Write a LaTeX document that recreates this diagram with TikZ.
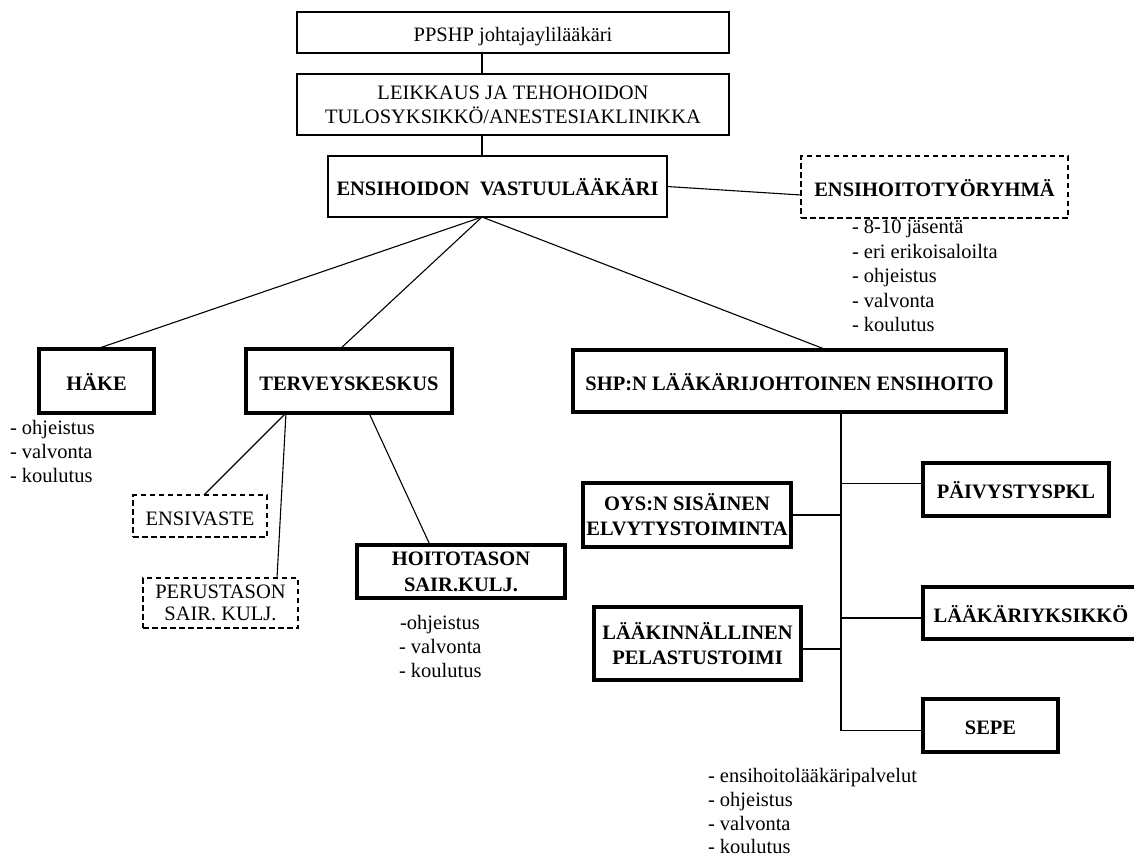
\documentclass[tikz,border=0pt]{standalone}
\usepackage{fontspec}
\setmainfont{Liberation Serif}
\begin{document}
\begin{tikzpicture}[x=1pt,y=-1pt,
  every node/.style={font=\fontsize{20.5}{25}\selectfont, inner sep=0pt, outer sep=0pt, align=center},
  thinbox/.style={draw, rectangle, line width=1.2pt},
  boldtxt/.style={font=\fontsize{20.5}{25}\selectfont\bfseries},
  thickbox/.style={draw, rectangle, line width=3.2pt, boldtxt},
  dashbox/.style={draw, rectangle, line width=1.8pt, dash pattern=on 5.5pt off 3.5pt},
  oneline/.style={text height=18pt, text depth=0pt},
  conn/.style={line width=1.1pt},
  note/.style={anchor=base west, align=left}]
\useasboundingbox (0,0) rectangle (1134,855);

% top chain
\node[thinbox, oneline, minimum width=432pt, minimum height=41pt] (pp) at (513,32.5) {PPSHP johtajaylilääkäri};
\node[thinbox, minimum width=432pt, minimum height=61pt] (lk) at (513,104.5) {LEIKKAUS JA TEHOHOIDON\\[-1pt]TULOSYKSIKKÖ/ANESTESIAKLINIKKA};
\node[thinbox, boldtxt, oneline, minimum width=339pt, minimum height=61pt] (vl) at (497.5,186.5) {ENSIHOIDON\ \ VASTUULÄÄKÄRI};
\node[dashbox, boldtxt, oneline, minimum width=267pt, minimum height=62pt] (eh) at (934.5,187) {ENSIHOITOTYÖRYHMÄ};

\node[note] (eh1) at (852,233.5) {- 8-10 jäsentä};
\node[note] (eh2) at (852,258) {- eri erikoisaloilta};
\node[note] (eh3) at (852,282.5) {- ohjeistus};
\node[note] (eh4) at (852,307) {- valvonta};
\node[note] (eh5) at (852,331) {- koulutus};

% second level
\node[thickbox, oneline, minimum width=115pt, minimum height=64pt] (hk) at (96.5,381) {HÄKE};
\node[thickbox, oneline, minimum width=206pt, minimum height=64pt] (tk) at (349,381) {TERVEYSKESKUS};
\node[thickbox, oneline, minimum width=433pt, minimum height=62pt] (shp) at (789.5,381) {SHP:N LÄÄKÄRIJOHTOINEN ENSIHOITO};

\node[note] (hk1) at (10,434) {- ohjeistus};
\node[note] (hk2) at (10,458) {- valvonta};
\node[note] (hk3) at (10,482) {- koulutus};

% terveyskeskus children
\node[dashbox, oneline, minimum width=134pt, minimum height=42pt] (ens) at (200,516) {ENSIVASTE};
\node[dashbox, minimum width=155pt, minimum height=50pt] (per) at (220.5,603) {PERUSTASON\\[-3pt]SAIR. KULJ.};
\node[thickbox, minimum width=208pt, minimum height=53pt] (hoi) at (461,571.5) {\raisebox{-2pt}{HOITOTASON}\\[1pt]\raisebox{-2pt}{SAIR.KULJ.}};

\node[note] (ho1) at (400,629) {-ohjeistus};
\node[note] (ho2) at (399,653) {- valvonta};
\node[note] (ho3) at (399,677) {- koulutus};

% SHP children
\node[thickbox, minimum width=208pt, minimum height=64pt] (oys) at (687,515) {\raisebox{-2pt}{OYS:N SISÄINEN}\\\raisebox{-2pt}{ELVYTYSTOIMINTA}};
\node[thickbox, minimum width=207pt, minimum height=73pt] (lp) at (697.5,643.5) {LÄÄKINNÄLLINEN\\PELASTUSTOIMI};
\node[thickbox, oneline, minimum width=186pt, minimum height=53pt] (pk) at (1016,489.5) {PÄIVYSTYSPKL};
\node[thickbox, oneline, minimum width=216pt, minimum height=52pt] (ly) at (1031,613) {LÄÄKÄRIYKSIKKÖ};
\node[thickbox, oneline, minimum width=135pt, minimum height=53pt] (sepe) at (990.5,725.5) {SEPE};

\node[note] (se1) at (708,782) {- ensihoitolääkäripalvelut};
\node[note] (se2) at (708,806) {- ohjeistus};
\node[note] (se3) at (708,830) {- valvonta};
\node[note] (se4) at (708,853) {- koulutus};

% connectors
\coordinate (hub) at ([xshift=-15.5pt]vl.south);
\draw[conn] ([xshift=-31pt]pp.south) -- ([xshift=-31pt]lk.north);
\draw[conn] ([xshift=-31pt]lk.south) -- ([xshift=-15.5pt]vl.north);
\draw[conn] (vl.east) -- ([yshift=-8pt]eh.west);
\draw[conn] (hub) -- (hk.north);
\draw[conn] (hub) -- ([xshift=-9pt]tk.north);
\draw[conn] (hub) -- ([xshift=37.5pt]shp.north);

\draw[conn] ([xshift=-63pt]tk.south) -- ([xshift=4pt]ens.north);
\draw[conn] ([xshift=-63pt]tk.south) -- ([xshift=56.5pt]per.north);
\draw[conn] ([xshift=20pt]tk.south) -- ([xshift=-31pt]hoi.north);

\coordinate (trunk) at ([xshift=51.5pt]shp.south);
\draw[conn] (trunk) |- ([yshift=-5pt]sepe.west);
\draw[conn] (trunk) |- ([yshift=6pt]pk.west);
\draw[conn] (trunk) |- (oys.east);
\draw[conn] (trunk) |- ([yshift=-5pt]ly.west);
\draw[conn] (trunk) |- ([yshift=-5.5pt]lp.east);
\end{tikzpicture}
\end{document}
